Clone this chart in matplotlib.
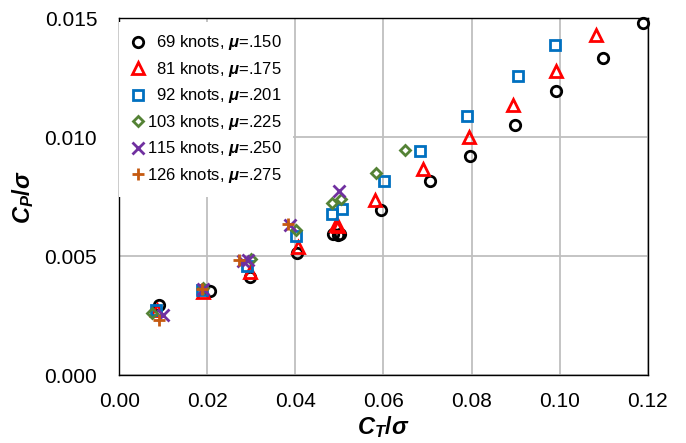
import matplotlib
matplotlib.use("Agg")
import matplotlib.pyplot as plt
from matplotlib.ticker import FormatStrFormatter

plt.rcParams["font.family"] = ["Liberation Sans", "DejaVu Sans"]
# all math on this chart is bold italic
plt.rcParams["mathtext.fontset"] = "custom"
plt.rcParams["mathtext.rm"] = "Liberation Sans:bold"
plt.rcParams["mathtext.it"] = "Liberation Sans:italic:bold"
plt.rcParams["mathtext.bf"] = "Liberation Sans:bold"
plt.rcParams["mathtext.bfit"] = "Liberation Sans:italic:bold"

# C_T/sigma and C_P/sigma for each forward speed
ct_69 = [0.0090, 0.0205, 0.0297, 0.0404, 0.0486, 0.0496, 0.0501, 0.0594, 0.0706, 0.0797, 0.0899, 0.0993, 0.1098, 0.1190]
cp_69 = [0.00295, 0.00352, 0.00414, 0.00513, 0.00594, 0.00587, 0.00592, 0.00695, 0.00815, 0.00923, 0.01050, 0.01196, 0.01332, 0.01481]

ct_81 = [0.0086, 0.0190, 0.0297, 0.0406, 0.0492, 0.0497, 0.0581, 0.0690, 0.0795, 0.0894, 0.0991, 0.1083]
cp_81 = [0.00272, 0.00348, 0.00433, 0.00538, 0.00632, 0.00628, 0.00737, 0.00866, 0.01000, 0.01136, 0.01276, 0.01430]

ct_92 = [0.0083, 0.0188, 0.0289, 0.0401, 0.0483, 0.0505, 0.0601, 0.0683, 0.0790, 0.0905, 0.0989]
cp_92 = [0.00276, 0.00360, 0.00458, 0.00585, 0.00678, 0.00697, 0.00818, 0.00942, 0.01087, 0.01256, 0.01389]

ct_103 = [0.0074, 0.0190, 0.0298, 0.0401, 0.0484, 0.0503, 0.0583, 0.0649]
cp_103 = [0.00260, 0.00365, 0.00487, 0.00608, 0.00723, 0.00741, 0.00851, 0.00947]

ct_115 = [0.0098, 0.0190, 0.0282, 0.0292, 0.0387, 0.0499]
cp_115 = [0.00255, 0.00362, 0.00478, 0.00482, 0.00632, 0.00774]

ct_126 = [0.0089, 0.0188, 0.0272, 0.0384]
cp_126 = [0.00234, 0.00362, 0.00482, 0.00636]

labels = [
    r"  69 knots, $\mu$=.150",
    r"  81 knots, $\mu$=.175",
    r"  92 knots, $\mu$=.201",
    r"103 knots, $\mu$=.225",
    r"115 knots, $\mu$=.250",
    r"126 knots, $\mu$=.275",
]

series = [
    (ct_69, cp_69, "o", "black", 7.5),
    (ct_81, cp_81, "^", "#FF0000", 8),
    (ct_92, cp_92, "s", "#0070C0", 7.5),
    (ct_103, cp_103, "D", "#548235", 5.5),
    (ct_115, cp_115, "x", "#7030A0", 8),
    (ct_126, cp_126, "+", "#C55A11", 8.5),
]

fig = plt.figure(figsize=(6.86, 4.43), dpi=100)
ax = fig.add_axes([0.174, 0.153, 0.770, 0.806])

for (x, y, m, c, ms), lab in zip(series, labels):
    ax.plot(x, y, linestyle="none", marker=m, markersize=ms,
            markerfacecolor="none", markeredgecolor=c, markeredgewidth=2,
            label=lab, clip_on=False, zorder=3)

ax.set_xlim(0, 0.12)
ax.set_ylim(0, 0.015)
ax.set_xticks([0.00, 0.02, 0.04, 0.06, 0.08, 0.10, 0.12])
ax.set_yticks([0.000, 0.005, 0.010, 0.015])
ax.xaxis.set_major_formatter(FormatStrFormatter("%.2f"))
ax.yaxis.set_major_formatter(FormatStrFormatter("%.3f"))
ax.tick_params(length=0, labelsize=15)
ax.tick_params(axis="x", pad=12)
ax.tick_params(axis="y", pad=16)
ax.grid(True, color="#BFBFBF", linewidth=1.3)
ax.set_axisbelow(True)
for s in ax.spines.values():
    s.set_linewidth(1.0)
    s.set_color("black")

ax.set_xlabel(r"$C_T/\sigma$", fontsize=17, labelpad=2)
ax.set_ylabel(r"$C_P/\sigma$", fontsize=17, labelpad=6)

leg = ax.legend(loc="upper left", bbox_to_anchor=(0, 0.99), borderaxespad=0,
                fontsize=12, handlelength=0.8, handletextpad=0.15,
                labelspacing=0.45, borderpad=0.7, fancybox=False,
                framealpha=1, facecolor="white", edgecolor="none")
leg.set_zorder(2.5)

fig.savefig("out.png", dpi=100)
